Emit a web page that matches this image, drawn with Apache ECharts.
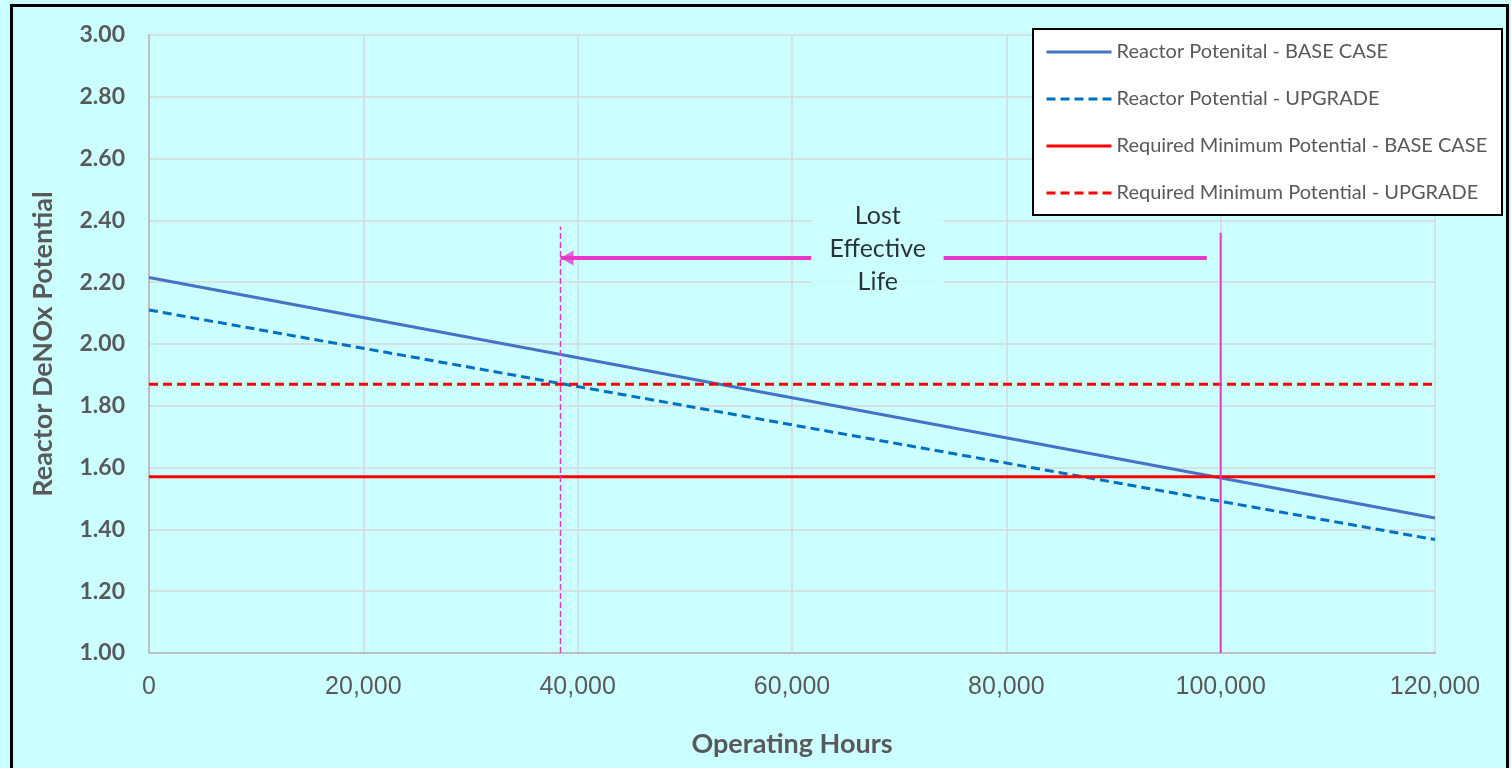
<!DOCTYPE html>
<html>
<head>
<meta charset="utf-8">
<script src="https://cdn.jsdelivr.net/npm/echarts@6/dist/echarts.min.js"></script>
<style>
html,body{margin:0;padding:0;background:#ccffff;}
#chart{width:1511px;height:768px;}
</style>
</head>
<body>
<div id="chart"></div>
<script>
// ---- data ----
const hours = [0, 120000];
const baseCase = [2.215, 1.437];
const upgrade = [2.11, 1.367];
const reqBase = [1.57, 1.57];
const reqUpgrade = [1.87, 1.87];
const seriesNames = [
  'Reactor Potenital - BASE CASE',
  'Reactor Potential - UPGRADE',
  'Required Minimum Potential - BASE CASE',
  'Required Minimum Potential - UPGRADE'
];
const endLifeBase = 100000;     // solid magenta marker
const endLifeUpgrade = 38400;   // dashed magenta marker
const markerTops = [2.36, 2.38];
const arrowFrom = 98700;
const arrowLevel = 2.278;
const labelGap = [61800, 74100]; // arrow shaft interrupted by the annotation
const annotationX = 68000;
const annotationY = 2.307;
const annotationText = 'Lost\nEffective\nLife';
const xTicks = [0, 20000, 40000, 60000, 80000, 100000, 120000];
const yTicks = [1.0, 1.2, 1.4, 1.6, 1.8, 2.0, 2.2, 2.4, 2.6, 2.8, 3.0];

const pair = (ys) => hours.map((h, i) => [h, ys[i]]);
const MAG = '#e838c9';
const GREY = '#595959';

const chart = echarts.init(document.getElementById('chart'));
chart.setOption({
  backgroundColor: '#ccffff',
  animation: false,
  grid: { left: 149, right: 76, top: 35, bottom: 115 },
  xAxis: {
    type: 'value', min: xTicks[0], max: xTicks[xTicks.length - 1], interval: 20000,
    name: 'Operating Hours', nameLocation: 'middle', nameGap: 78,
    nameTextStyle: { fontFamily: 'Lato', fontWeight: 'bold', fontSize: 27, color: GREY },
    axisLine: { lineStyle: { color: '#bfbfbf', width: 2 } },
    axisTick: { show: false },
    axisLabel: { margin: 22, fontFamily: 'Liberation Sans', fontSize: 25, color: GREY,
      formatter: v => v.toLocaleString('en-US') },
    splitLine: { show: true, lineStyle: { color: '#d9d9d9', width: 1.5 } }
  },
  yAxis: {
    type: 'value', min: yTicks[0], max: yTicks[yTicks.length - 1], interval: 0.2,
    name: 'Reactor DeNOx Potential', nameLocation: 'middle', nameGap: 92, nameRotate: 90,
    nameTextStyle: { fontFamily: 'Lato', fontWeight: 'bold', fontSize: 27, color: GREY },
    axisLine: { show: true, lineStyle: { color: '#bfbfbf', width: 2 } },
    axisTick: { show: false },
    axisLabel: { margin: 24, fontFamily: 'Lato', fontWeight: 'bold', fontSize: 23, color: GREY,
      formatter: v => v.toFixed(2) },
    splitLine: { show: true, lineStyle: { color: '#d9d9d9', width: 1.5 } }
  },
  legend: {
    data: seriesNames,
    orient: 'vertical', left: 1045, top: 41, padding: 0,
    itemWidth: 65, itemHeight: 22, itemGap: 25,
    itemStyle: { opacity: 0 },
    lineStyle: { width: 3 },
    textStyle: { fontFamily: 'Lato', fontSize: 20, color: GREY, lineHeight: 22 }
  },
  graphic: { elements: [
    { type: 'rect', z: 3, silent: true,
      shape: { x: 1033, y: 29, width: 469, height: 186 },
      style: { fill: '#ffffff', stroke: '#000000', lineWidth: 2 } },
    { type: 'rect', z: 100, silent: true,
      shape: { x: 11.5, y: 5.5, width: 1496, height: 800 },
      style: { fill: 'none', stroke: '#000000', lineWidth: 3 } }
  ]},
  series: [
    { name: seriesNames[0], type: 'line', data: pair(baseCase), symbol: 'none',
      lineStyle: { color: '#4472c4', width: 3 }, itemStyle: { color: '#4472c4' } },
    { name: seriesNames[1], type: 'line', data: pair(upgrade), symbol: 'none',
      lineStyle: { color: '#0070c0', width: 3, type: [9, 5] }, itemStyle: { color: '#0070c0' } },
    { name: seriesNames[2], type: 'line', data: pair(reqBase), symbol: 'none',
      lineStyle: { color: '#ff0000', width: 3 }, itemStyle: { color: '#ff0000' } },
    { name: seriesNames[3], type: 'line', data: pair(reqUpgrade), symbol: 'none',
      lineStyle: { color: '#ff0000', width: 3, type: [9, 5] }, itemStyle: { color: '#ff0000' } },
    { name: 'end-base', type: 'line', symbol: 'none', silent: true, z: 3,
      data: [[endLifeBase, yTicks[0]], [endLifeBase, markerTops[0]]],
      lineStyle: { color: MAG, width: 2 } },
    { name: 'end-upgrade', type: 'line', symbol: 'none', silent: true, z: 3,
      data: [[endLifeUpgrade, yTicks[0]], [endLifeUpgrade, markerTops[1]]],
      lineStyle: { color: MAG, width: 1.5, type: [6, 3] } },
    { name: 'arrow', type: 'line', silent: true, z: 4, symbol: 'none', connectNulls: false,
      lineStyle: { color: MAG, width: 4 },
      data: [[arrowFrom, arrowLevel], [labelGap[1], arrowLevel], [null, null],
             [labelGap[0], arrowLevel], [endLifeUpgrade, arrowLevel]] },
    { name: 'arrowhead', type: 'scatter', silent: true, z: 5,
      symbol: 'triangle', symbolSize: [15, 13], symbolRotate: 90, symbolOffset: [6.5, 0],
      itemStyle: { color: MAG },
      data: [[endLifeUpgrade, arrowLevel]] },
    { name: 'annotation', type: 'scatter', silent: true, z: 10, symbolSize: 1,
      itemStyle: { color: 'rgba(0,0,0,0)' },
      data: [[annotationX, annotationY]],
      label: { show: true, position: 'inside', formatter: annotationText,
        fontFamily: 'Lato', fontSize: 25, color: '#000', lineHeight: 33,
        backgroundColor: '#ccffff', width: 132, align: 'center', padding: 0 } }
  ]
});
</script>
</body>
</html>
